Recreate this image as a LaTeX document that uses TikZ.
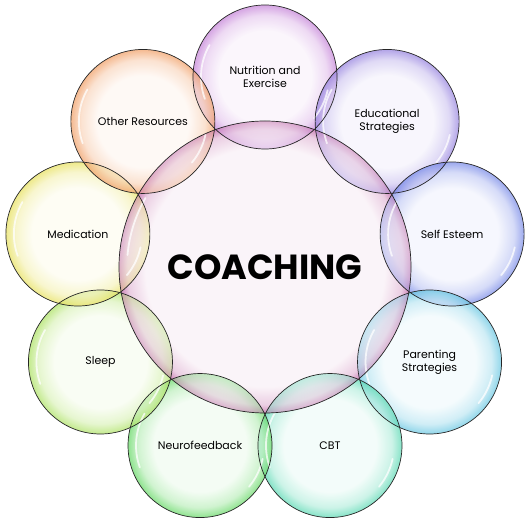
\documentclass[tikz,border=0pt]{standalone}
\usepackage{fontspec}
\setmainfont{Poppins}
\usetikzlibrary{calc}
\definecolor{cnutr}{HTML}{C27CD6}
\definecolor{ceduc}{HTML}{907BDD}
\definecolor{cself}{HTML}{6F82E6}
\definecolor{cpar}{HTML}{5EC3E0}
\definecolor{ccbt}{HTML}{4FD6AE}
\definecolor{cneuro}{HTML}{5CD65C}
\definecolor{csleep}{HTML}{A8E05A}
\definecolor{cmed}{HTML}{E6DF55}
\definecolor{coth}{HTML}{F09A5E}
\definecolor{ccen}{HTML}{CC84B8}
\colorlet{bubin}{white}
\colorlet{bubmid}{white}
\colorlet{bubout}{white}
\pgfdeclareradialshading[bubin,bubmid,bubout]{bubble}{\pgfpoint{0bp}{0bp}}{color(0bp)=(bubin); color(16bp)=(bubin); color(21.5bp)=(bubmid); color(25bp)=(bubout); color(50bp)=(bubout)}
\pgfdeclareradialshading[bubin,bubmid,bubout]{bigbubble}{\pgfpoint{0bp}{0bp}}{color(0bp)=(bubin); color(20.5bp)=(bubin); color(23.6bp)=(bubmid); color(25bp)=(bubout); color(50bp)=(bubout)}
\tikzset{
  bubcol/.code={\colorlet{bubin}{#1!9!white}\colorlet{bubmid}{#1!40!white}\colorlet{bubout}{#1!95!white}},
  bubfill/.style={bubcol=#1, shading=bubble, draw=none},
  bigfill/.style={bubcol=#1, shading=bigbubble, draw=none},
  ring/.style={draw=black!85, line width=0.7pt},
  gloss/.style={draw=white, line width=1.8pt, line cap=round, opacity=0.75},
  lbl/.style={align=center, font=\fontsize{11}{13}\selectfont, text=black},
  title/.style={font=\fontsize{35}{40}\bfseries\selectfont, text=black}
}
\begin{document}
\begin{tikzpicture}[x=1bp,y=1bp]
\useasboundingbox (0,0) rectangle (531,523);
\coordinate (C) at (265,256);
% center bubble
\path[bigfill=ccen] (C) circle (146);
% outer bubbles
\foreach \n/\a/\c in {b1/90/cnutr, b2/50/ceduc, b3/10/cself, b4/-30/cpar, b5/-70/ccbt, b6/-110/cneuro, b7/-150/csleep, b8/170/cmed, b9/130/coth}{
  \coordinate (\n) at ($(C)+(\a:190)$);
  \path[bubfill=\c, fill opacity=0.72] (\n) circle (72);
}
% centre tint over the lenses
\foreach \n in {b1,b2,b3,b4,b5,b6,b7,b8,b9}{
  \begin{scope}
    \clip (\n) circle (72);
    \path[bigfill=ccen, fill opacity=0.5] (C) circle (146);
  \end{scope}
}
% gloss highlights
\foreach \n in {b1,b2,b3,b4,b5,b6,b7,b8,b9}{
  \draw[gloss] ($(\n)+(150:64)$) arc (150:200:64);
  \draw[gloss] ($(\n)+(-40:64)$) arc (-40:-12:64);
}
\draw[gloss] ($(C)+(150:138)$) arc (150:175:138);
% outlines
\draw[ring] (C) circle (146);
\foreach \n in {b1,b2,b3,b4,b5,b6,b7,b8,b9}{
  \draw[ring] (\n) circle (72);
}
% labels
\node[title] (tc) at (C) {COACHING};
\node[lbl] (t1) at (b1) {Nutrition and\\Exercise};
\node[lbl] (t2) at (b2) {Educational\\Strategies};
\node[lbl] (t3) at (b3) {Self Esteem};
\node[lbl] (t4) at (b4) {Parenting\\Strategies};
\node[lbl] (t5) at (b5) {CBT};
\node[lbl] (t6) at (b6) {Neurofeedback};
\node[lbl] (t7) at (b7) {Sleep};
\node[lbl] (t8) at (b8) {Medication};
\node[lbl] (t9) at (b9) {Other Resources};
\end{tikzpicture}
\end{document}
